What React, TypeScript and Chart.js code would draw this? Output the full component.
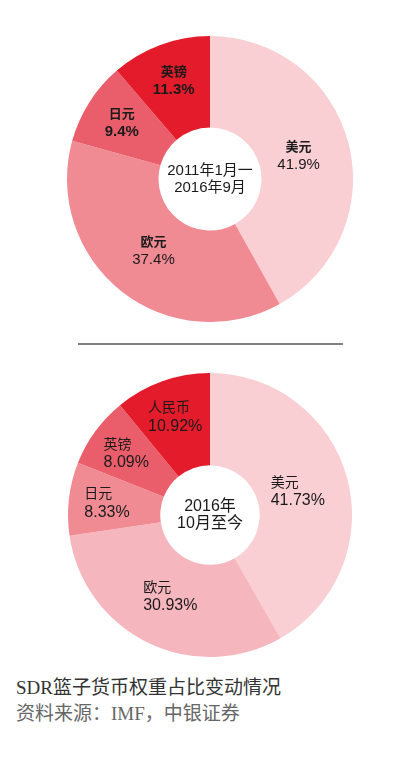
import React, { useEffect, useRef } from "react";
import { Chart, registerables } from "chart.js";

Chart.register(...registerables);

// ---- Data ----
const topLabels = ["美元", "欧元", "日元", "英镑"];
const topValues = [41.9, 37.4, 9.4, 11.3];
const topValueText = ["41.9%", "37.4%", "9.4%", "11.3%"];
const topColors = ["#F9CFD3", "#F08B94", "#EA5E6B", "#E31B2B"];
const topCenter = ["2011年1月一", "2016年9月"];

const bottomLabels = ["美元", "欧元", "日元", "英镑", "人民币"];
const bottomValues = [41.73, 30.93, 8.33, 8.09, 10.92];
const bottomValueText = ["41.73%", "30.93%", "8.33%", "8.09%", "10.92%"];
const bottomColors = ["#F9CFD3", "#F6B6BD", "#F08B94", "#EA5E6B", "#E31B2B"];
const bottomCenter = ["2016年", "10月至今"];

const captionTitle = "SDR篮子货币权重占比变动情况";
const captionSource = "资料来源：IMF，中银证券";

const SANS = '"Liberation Sans", Arial, "Noto Sans CJK SC", sans-serif';

type Cfg = {
  labels: string[];
  values: number[];
  valueText: string[];
  colors: string[];
  center: string[];
  cutout: string;
  bold: boolean;
  nameSize: number;
  valueSize: number;
  centerSize: number;
  leftBlock: boolean;
};

function makeLabelPlugin(cfg: Cfg) {
  return {
    id: "sliceLabels",
    afterDatasetsDraw(chart: any) {
      const ctx = chart.ctx;
      const meta = chart.getDatasetMeta(0);
      ctx.save();
      ctx.fillStyle = "#1a1a1a";
      ctx.textBaseline = "middle";
      meta.data.forEach((arc: any, i: number) => {
        const p = arc.getProps(["x", "y", "startAngle", "endAngle", "outerRadius"], true);
        const mid = (p.startAngle + p.endAngle) / 2;
        const frac = cfg.values[i] > 30 ? 0.64 : 0.73;
        const r = p.outerRadius * frac;
        const cx = p.x + Math.cos(mid) * r;
        const cy = p.y + Math.sin(mid) * r;
        const nameFont = `${cfg.bold ? "bold " : ""}${cfg.nameSize}px ${SANS}`;
        const valFont = `${cfg.bold && cfg.values[i] < 30 ? "bold " : ""}${cfg.valueSize}px ${SANS}`;
        ctx.font = nameFont;
        const w1 = ctx.measureText(cfg.labels[i]).width;
        ctx.font = valFont;
        const w2 = ctx.measureText(cfg.valueText[i]).width;
        const gap = 9;
        if (cfg.leftBlock) {
          const left = cx - Math.max(w1, w2) / 2;
          ctx.textAlign = "left";
          ctx.font = nameFont;
          ctx.fillText(cfg.labels[i], left, cy - gap);
          ctx.font = valFont;
          ctx.fillText(cfg.valueText[i], left, cy + gap);
        } else {
          ctx.textAlign = "center";
          ctx.font = nameFont;
          ctx.fillText(cfg.labels[i], cx, cy - gap);
          ctx.font = valFont;
          ctx.fillText(cfg.valueText[i], cx, cy + gap);
        }
      });
      const a0 = meta.data[0];
      if (a0) {
        ctx.textAlign = "center";
        ctx.font = `${cfg.centerSize}px ${SANS}`;
        ctx.fillText(cfg.center[0], a0.x, a0.y - 8);
        ctx.fillText(cfg.center[1], a0.x, a0.y + 9);
      }
      ctx.restore();
    },
  };
}

function Donut({ cfg, style }: { cfg: Cfg; style: React.CSSProperties }) {
  const ref = useRef<HTMLCanvasElement | null>(null);
  useEffect(() => {
    if (!ref.current) return;
    const chart = new Chart(ref.current, {
      type: "doughnut",
      data: {
        labels: cfg.labels,
        datasets: [
          {
            data: cfg.values,
            backgroundColor: cfg.colors,
            borderWidth: 0,
          },
        ],
      },
      options: {
        animation: false,
        responsive: false,
        maintainAspectRatio: false,
        cutout: cfg.cutout,
        layout: { padding: 0 },
        plugins: {
          legend: { display: false },
          tooltip: { enabled: false },
        },
      },
      plugins: [makeLabelPlugin(cfg)],
    });
    return () => chart.destroy();
  }, []);
  const w = style.width as number;
  const h = style.height as number;
  return <canvas ref={ref} width={w} height={h} style={{ position: "absolute", ...style }} />;
}

export default function App() {
  const topCfg: Cfg = {
    labels: topLabels,
    values: topValues,
    valueText: topValueText,
    colors: topColors,
    center: topCenter,
    cutout: "36%",
    bold: true,
    nameSize: 13,
    valueSize: 15,
    centerSize: 15,
    leftBlock: false,
  };
  const bottomCfg: Cfg = {
    labels: bottomLabels,
    values: bottomValues,
    valueText: bottomValueText,
    colors: bottomColors,
    center: bottomCenter,
    cutout: "35%",
    bold: false,
    nameSize: 14,
    valueSize: 16,
    centerSize: 16,
    leftBlock: true,
  };
  return (
    <div
      style={{
        position: "fixed",
        left: 0,
        top: 0,
        width: 394,
        height: 763,
        background: "#fff",
        overflow: "hidden",
      }}
    >
      <Donut cfg={topCfg} style={{ left: 67, top: 36, width: 286, height: 286 }} />
      <div
        style={{
          position: "absolute",
          left: 78,
          top: 343,
          width: 265,
          height: 2,
          background: "#808080",
        }}
      />
      <Donut cfg={bottomCfg} style={{ left: 68, top: 373, width: 284, height: 284 }} />
      <div
        style={{
          position: "absolute",
          left: 16,
          top: 675,
          fontFamily: '"Liberation Serif", "Noto Sans CJK SC", serif',
          fontSize: 19,
          lineHeight: "26px",
          whiteSpace: "nowrap",
        }}
      >
        <div style={{ color: "#333" }}>{captionTitle}</div>
        <div style={{ color: "#666" }}>{captionSource}</div>
      </div>
    </div>
  );
}
